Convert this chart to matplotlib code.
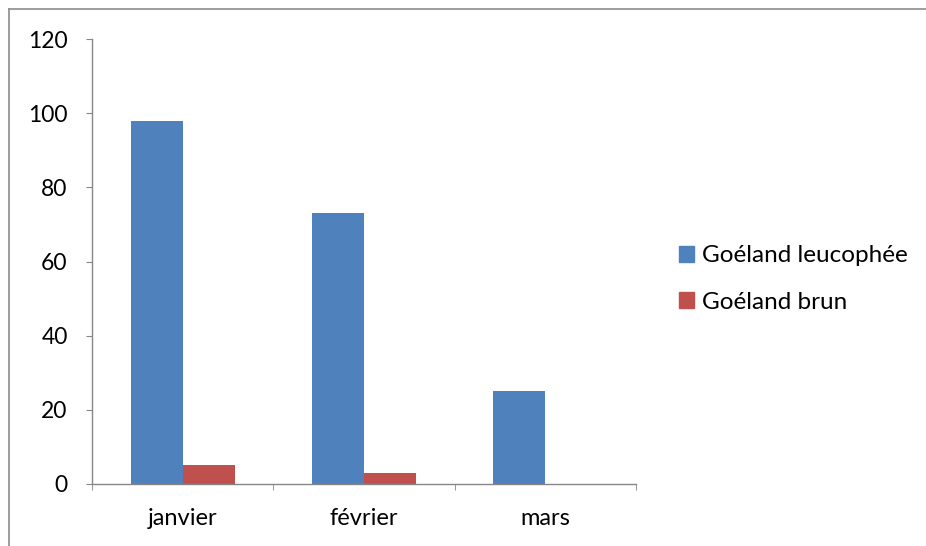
import matplotlib
matplotlib.use("Agg")
import matplotlib.pyplot as plt
from matplotlib.lines import Line2D
from matplotlib.patches import Patch
import numpy as np

months = ["janvier", "février", "mars"]
leucophee = [98, 73, 25]
brun = [5, 3, 0]
series_names = ["Goéland leucophée", "Goéland brun"]
yticks = [0, 20, 40, 60, 80, 100, 120]

blue = "#4f81bd"
red = "#c0504d"
axis_gray = "#868686"

plt.rcParams["font.family"] = ["Lato", "DejaVu Sans"]

W, H = 926, 546
fig = plt.figure(figsize=(W / 100, H / 100), dpi=100)
ax = fig.add_axes([92 / W, 1 - 484 / H, (636 - 92) / W, (484 - 39) / H])

x = np.arange(len(months))
bw = 0.286
ax.bar(x - bw / 2, leucophee, width=bw, color=blue, label=series_names[0])
ax.bar(x + bw / 2, brun, width=bw, color=red, label=series_names[1])

ax.set_xlim(-0.5, len(months) - 0.5)
ax.set_ylim(0, 120)
ax.set_yticks(yticks)
ax.set_yticklabels([str(v) for v in yticks])
ax.set_xticks(x)
ax.set_xticklabels(months)
ax.set_xticks(np.arange(len(months) + 1) - 0.5, minor=True)

for s in ("top", "right"):
    ax.spines[s].set_visible(False)
for s in ("left", "bottom"):
    ax.spines[s].set_color(axis_gray)
    ax.spines[s].set_linewidth(1.0)

ax.tick_params(axis="y", length=4.5, color=axis_gray, labelsize=16.5, pad=13)
ax.tick_params(axis="x", which="major", length=0, labelsize=17, pad=17)
ax.tick_params(axis="x", which="minor", length=4.5, color=axis_gray)

handles = [Patch(color=blue), Patch(color=red)]
fig.legend(handles, series_names, loc="center left",
           bbox_to_anchor=(679 / W, 1 - 279 / H), frameon=False,
           borderpad=0, borderaxespad=0,
           fontsize=17.5, handlelength=0.62, handleheight=0.62,
           handletextpad=0.33, labelspacing=1.05)

# chart area border (top and left edges)
fig.add_artist(Line2D([9 / W, 9 / W], [0, 1 - 8.5 / H], color="#8c8c8c",
                      linewidth=1.2, transform=fig.transFigure))
fig.add_artist(Line2D([9 / W, 1], [1 - 8.5 / H, 1 - 8.5 / H], color="#8c8c8c",
                      linewidth=1.2, transform=fig.transFigure))

fig.savefig("out.png", dpi=100, facecolor="white")
